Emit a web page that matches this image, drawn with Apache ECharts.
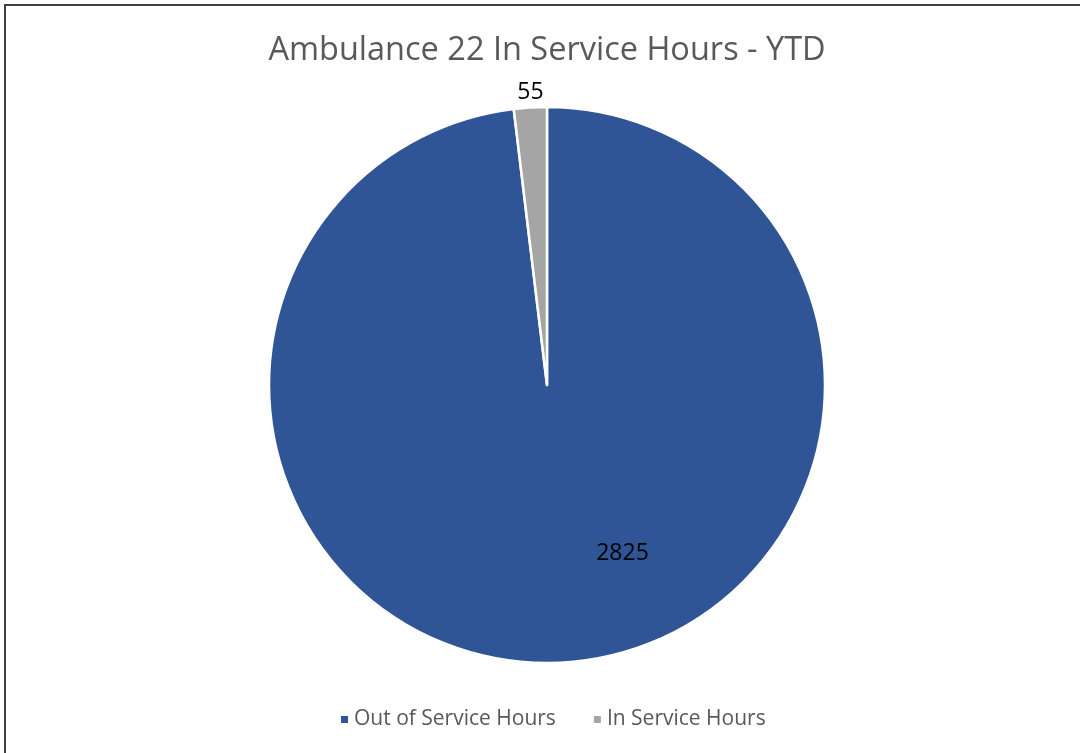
<!DOCTYPE html>
<html lang="en">
  <head>
    <meta charset="UTF-8" />
    <script src="https://cdn.jsdelivr.net/npm/echarts@6/dist/echarts.min.js"></script>
    <title>Ambulance 22</title>
    <style>
      html,
      body,
      #chart {
        width: 100%;
        height: 100%;
        margin: 0;
        padding: 0;
        overflow: hidden;
        background: #fff;
      }
    </style>
  </head>
  <body>
    <div id="chart"></div>
    <script>
      const titleText = "Ambulance 22 In Service Hours - YTD";
      const categories = ["Out of Service Hours", "In Service Hours"];
      const hours = [2825, 55];
      const colors = ["#2F5597", "#A5A5A5"];
      // label nudges from the default inside spot, like Excel's best fit
      const labelShift = [
        { dx: 67, dy: 27 },
        { dx: -8, dy: -151 },
      ];

      const chart = echarts.init(document.getElementById("chart"));
      const font = "'Open Sans', 'Noto Sans', sans-serif";

      chart.setOption({
        animation: false,
        textStyle: { fontFamily: font },
        graphic: [
          {
            type: "rect",
            shape: { x: 5, y: 5, width: 1200, height: 900 },
            style: { fill: "none", stroke: "#404040", lineWidth: 2 },
            silent: true,
          },
        ],
        title: {
          text: titleText,
          top: 29,
          left: 542,
          textAlign: "center",
          textStyle: {
            fontFamily: font,
            fontSize: 32.5,
            fontWeight: "normal",
            color: "#595959",
          },
        },
        legend: {
          data: categories,
          top: 704,
          left: 334,
          itemWidth: 9,
          itemHeight: 9,
          itemGap: 36,
          icon: "rect",
          textStyle: { fontFamily: font, fontSize: 21, color: "#595959" },
        },
        series: [
          {
            type: "pie",
            center: [547, 385],
            radius: 278,
            startAngle: 90,
            clockwise: true,
            itemStyle: { borderColor: "#fff", borderWidth: 2.5 },
            label: {
              show: true,
              position: "inside",
              formatter: "{c}",
              color: "#000",
              fontFamily: font,
              fontSize: 23,
            },
            labelLine: { show: false },
            labelLayout: (p) => labelShift[p.dataIndex],
            emphasis: { disabled: true },
            data: categories.map((name, i) => ({
              name: name,
              value: hours[i],
              itemStyle: { color: colors[i] },
            })),
          },
        ],
      });
    </script>
  </body>
</html>
